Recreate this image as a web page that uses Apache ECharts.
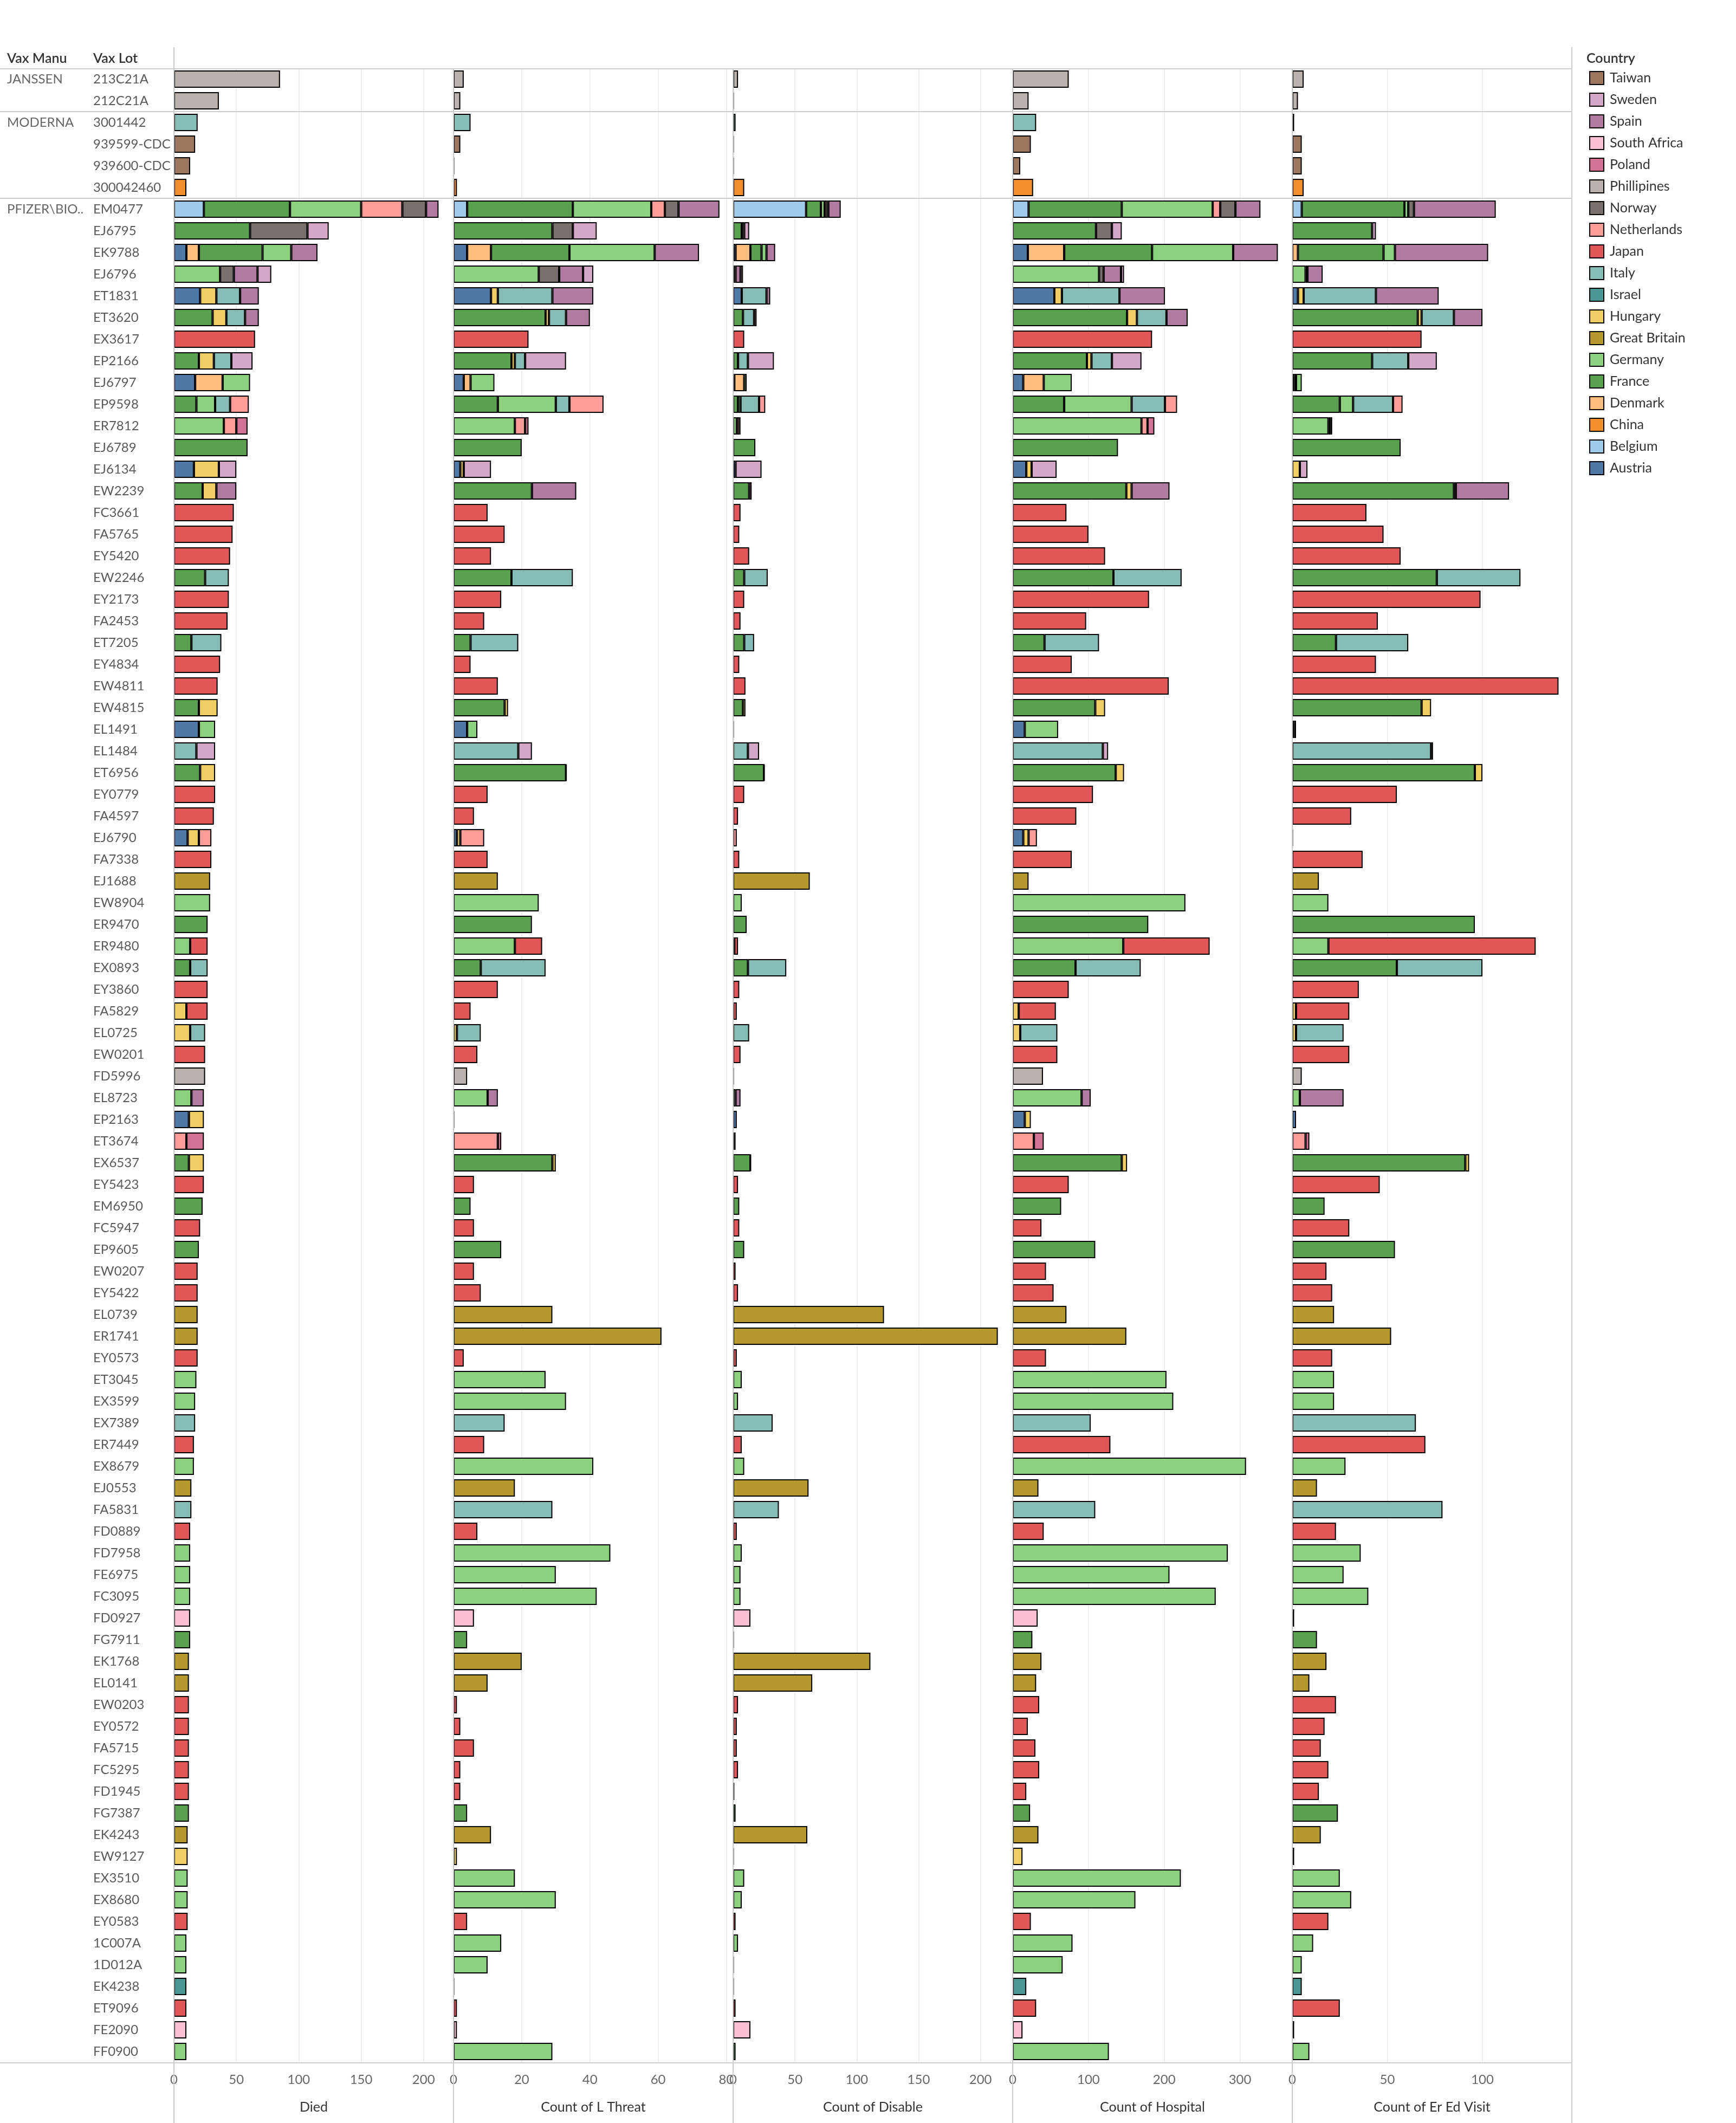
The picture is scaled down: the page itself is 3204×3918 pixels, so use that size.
<!DOCTYPE html>
<html>
<head>
<meta charset="utf-8">
<title>Vax lots by country</title>
<script src="https://cdn.jsdelivr.net/npm/echarts@6/dist/echarts.min.js"></script>
<style>
  html, body { margin: 0; padding: 0; background: #fff; }
  #chart { width: 3204px; height: 3918px; }
</style>
</head>
<body>
<div id="chart"></div>
<script>
// ---- data ----
var manuNames = ['JANSSEN', 'MODERNA', 'PFIZER\\BIO..'];
var manuSizes = [2, 4, 86];

var lots = ['213C21A','212C21A',
  '3001442','939599-CDC','939600-CDC','300042460',
  'EM0477','EJ6795','EK9788','EJ6796','ET1831','ET3620','EX3617','EP2166','EJ6797','EP9598',
  'ER7812','EJ6789','EJ6134','EW2239','FC3661','FA5765','EY5420','EW2246','EY2173','FA2453',
  'ET7205','EY4834','EW4811','EW4815','EL1491','EL1484','ET6956','EY0779','FA4597','EJ6790',
  'FA7338','EJ1688','EW8904','ER9470','ER9480','EX0893','EY3860','FA5829','EL0725','EW0201',
  'FD5996','EL8723','EP2163','ET3674','EX6537','EY5423','EM6950','FC5947','EP9605','EW0207',
  'EY5422','EL0739','ER1741','EY0573','ET3045','EX3599','EX7389','ER7449','EX8679','EJ0553',
  'FA5831','FD0889','FD7958','FE6975','FC3095','FD0927','FG7911','EK1768','EL0141','EW0203',
  'EY0572','FA5715','FC5295','FD1945','FG7387','EK4243','EW9127','EX3510','EX8680','EY0583',
  '1C007A','1D012A','EK4238','ET9096','FE2090','FF0900'];

// stacking order (alphabetical), legend shows it reversed
var countries = ['Austria','Belgium','China','Denmark','France','Germany','Great Britain','Hungary',
  'Israel','Italy','Japan','Netherlands','Norway','Phillipines','Poland','South Africa','Spain',
  'Sweden','Taiwan'];
var countryColors = ['#4E79A7','#A0CBE8','#F28E2B','#FFBE7D','#59A14F','#8CD17D','#B6992D','#F1CE63',
  '#499894','#86BCB6','#E15759','#FF9D9A','#79706E','#BAB0AC','#D37295','#FABFD2','#B07AA1',
  '#D4A6C8','#9D7660'];

var J = ['Japan'], GER = ['Germany'], GB = ['Great Britain'], FR = ['France'], IT = ['Italy'];
// countries present in each lot (values below follow this order)
var lotCountries = [
  ['Phillipines'], ['Phillipines'],
  IT, ['Taiwan'], ['Taiwan'], ['China'],
  ['Belgium','France','Germany','Netherlands','Norway','Spain'],
  ['France','Norway','Sweden'],
  ['Austria','Denmark','France','Germany','Spain'],
  ['Germany','Norway','Spain','Sweden'],
  ['Austria','Hungary','Italy','Spain'],
  ['France','Hungary','Italy','Spain'],
  J,
  ['France','Hungary','Italy','Sweden'],
  ['Austria','Denmark','Germany'],
  ['France','Germany','Italy','Netherlands'],
  ['Germany','Netherlands','Poland'],
  FR,
  ['Austria','Hungary','Sweden'],
  ['France','Hungary','Spain'],            // 19 EW2239
  J, J, J,
  ['France','Italy'],
  J, J,
  ['France','Italy'],
  J, J,
  ['France','Hungary'],
  ['Austria','Germany'],
  ['Italy','Sweden'],
  ['France','Hungary'],
  J, J,
  ['Austria','Hungary','Netherlands'],
  J,
  GB, GER, FR,
  ['Germany','Japan'],
  ['France','Italy'],
  J,
  ['Hungary','Japan'],
  ['Hungary','Italy'],
  J, ['Phillipines'],
  ['Germany','Spain'],
  ['Austria','Hungary'],
  ['Netherlands','Poland'],
  ['France','Hungary'],                    // 50 EX6537
  J, FR, J, FR, J, J, GB, GB, J,           // 51-59
  GER, GER, IT, J, GER, GB, IT, J, GER, GER, GER, ['South Africa'], FR,   // 60-72
  GB, GB, J, J, J, J, J, FR,               // 73-80
  GB, ['Hungary'], GER, GER, J,            // 81-85
  GER, GER, ['Israel'], J, ['South Africa'], GER   // 86-91
];

var died = [
  [85], [36],
  [19], [17], [13], [10],
  [24, 69, 57, 33, 19, 10], [61, 46, 17], [10, 10, 51, 23, 21], [37, 11, 19, 11],
  [21, 13, 19, 15], [31, 11, 15, 11], [65], [20, 12, 14, 17], [17, 22, 22],
  [18, 15, 12, 15], [40, 10, 9], [59], [16, 20, 14],
  [23, 11, 16], [48], [47], [45], [25, 19], [44], [43], [14, 24], [37], [35],
  [20, 15], [20, 13], [18, 15], [21, 12], [33], [32], [11, 9, 10], [30],
  [29], [29], [27], [13, 14], [13, 14], [27], [10, 17], [13, 12], [25], [25],
  [14, 10], [12, 12], [10, 14], [12, 12],
  [24], [23], [21], [20], [19], [19], [19], [19], [19],
  [18], [17], [17], [16], [16], [14], [14], [13], [13], [13], [13], [13], [13],
  [12], [12], [12], [12], [12], [12], [12], [12],
  [11], [11], [11], [11], [11],
  [10], [10], [10], [10], [10], [10]
];

var lThreat = [
  [3], [2],
  [5], [2], [0], [1],
  [4, 31, 23, 4, 4, 12], [29, 6, 7], [4, 7, 23, 25, 13], [25, 6, 7, 3],
  [11, 2, 16, 12], [27, 1, 5, 7], [22], [17, 1, 3, 12], [3, 2, 7],
  [13, 17, 4, 10], [18, 3, 1], [20], [2, 1, 8],
  [23, null, 13], [10], [15], [11], [17, 18], [14], [9], [5, 14], [5], [13],
  [15, 1], [4, 3], [19, 4], [33, 0], [10], [6], [1, 1, 7], [10],
  [13], [25], [23], [18, 8], [8, 19], [13], [null, 5], [1, 7], [7], [4],
  [10, 3], [0, null], [13, 1], [29, 1],
  [6], [5], [6], [14], [6], [8], [29], [61], [3],
  [27], [33], [15], [9], [41], [18], [29], [7], [46], [30], [42], [6], [4],
  [20], [10], [1], [2], [6], [2], [2], [4],
  [11], [1], [18], [30], [4],
  [14], [10], [0], [1], [1], [29]
];

var disable = [
  [4], [0],
  [2], [0], [0], [9],
  [59, 12, 3, 2, 1, 10], [7, 2, 4], [2, 12, 9, 4, 7], [1, 1, 4, 2],
  [7, null, 20, 3], [8, null, 9, 2], [9], [4, null, 8, 21], [1, 8, 2],
  [4, 2, 15, 5], [3, 2, 1], [18], [2, null, 21],
  [13, null, 2], [6], [5], [13], [9, 19], [9], [6], [9, 8], [5], [10],
  [8, 2], [0, null], [12, 9], [25, 0], [9], [4], [null, null, 3], [5],
  [62], [7], [11], [1, 3], [12, 31], [5], [null, 3], [0, 13], [6], [0],
  [2, 4], [3, null], [1, 1], [14, 0],
  [4], [5], [5], [9], [2], [4], [122], [214], [3],
  [7], [4], [32], [7], [9], [61], [37], [3], [7], [6], [6], [14], [0],
  [111], [64], [4], [3], [3], [4], [1], [2],
  [60], [0], [9], [7], [2],
  [4], [0], [0], [2], [14], [2]
];

var hospital = [
  [74], [21],
  [31], [24], [10], [27],
  [21, 123, 120, 10, 20, 33], [110, 21, 13], [20, 48, 116, 107, 59], [114, 6, 23, 4],
  [55, 10, 76, 60], [151, 13, 39, 28], [184], [98, 6, 27, 39], [14, 27, 37],
  [68, 89, 44, 16], [170, 8, 9], [139], [18, 7, 33],
  [150, 7, 50], [71], [100], [122], [133, 90], [180], [97], [42, 72], [78], [206],
  [109, 13], [16, 44], [119, 7], [136, 11], [106], [84], [14, 7, 11], [78],
  [21], [228], [179], [146, 114], [83, 86], [74], [8, 49], [10, 49], [59], [40],
  [91, 12], [16, 8], [28, 13], [144, 7],
  [74], [64], [38], [109], [44], [54], [71], [150], [44],
  [203], [212], [103], [129], [308], [34], [109], [41], [284], [207], [268], [33], [26],
  [38], [31], [35], [20], [30], [35], [18], [23],
  [34], [13], [222], [162], [24],
  [79], [66], [18], [31], [13], [127]
];

var erVisit = [
  [6], [3],
  [1], [5], [5], [6],
  [5, 54, 2, null, 3, 43], [42, null, 2], [null, 3, 45, 6, 49], [7, 1, 8, null],
  [3, 3, 38, 33], [66, 2, 17, 15], [68], [42, null, 19, 15], [1, 1, 3],
  [25, 7, 21, 5], [19, 1, 1], [57], [null, 4, 4],
  [85, 1, 28], [39], [48], [57], [76, 44], [99], [45], [23, 38], [44], [140],
  [68, 5], [1, 1], [73, 1], [96, 4], [55], [31], [null, null, 0], [37],
  [14], [19], [96], [19, 109], [55, 45], [35], [2, 28], [2, 25], [30], [5],
  [4, 23], [2, null], [7, 2], [91, 2],
  [46], [17], [30], [54], [18], [21], [22], [52], [21],
  [22], [22], [65], [70], [28], [13], [79], [23], [36], [27], [40], [1], [13],
  [18], [9], [23], [17], [15], [19], [14], [24],
  [15], [1], [25], [31], [19],
  [11], [5], [5], [25], [1], [9]
];

var measureNames = ['Died', 'Count of L Threat', 'Count of Disable', 'Count of Hospital', 'Count of Er Ed Visit'];
var measureMax = [224, 82, 226, 369, 147];
var measureStep = [50, 20, 50, 100, 50];
var measures = [died, lThreat, disable, hospital, erVisit];

// ---- layout ----
var FONT = 'Lato, "Noto Sans", sans-serif';
var PANEL_LEFT = 321, PANEL_W = 516, TOP = 126, ROW_H = 40;
var PLOT_H = ROW_H * lots.length;
var BOTTOM = TOP + PLOT_H;
var RIGHT = PANEL_LEFT + PANEL_W * measures.length;
var LINE = '#cdcdcd';

var rowManu = [];
var manuLabels = [];
manuNames.forEach(function (m, k) {
  for (var i = 0; i < manuSizes[k]; i++) {
    rowManu.push(m);
    manuLabels.push(i === 0 ? m : '');
  }
});

var chart = echarts.init(document.getElementById('chart'));

var grids = [], xAxes = [], yAxes = [], series = [];
measures.forEach(function (rows, g) {
  grids.push({ left: PANEL_LEFT + PANEL_W * g, top: TOP, width: PANEL_W, height: PLOT_H });
  xAxes.push({
    gridIndex: g, type: 'value', min: 0, max: measureMax[g], interval: measureStep[g],
    axisLine: { show: false }, axisTick: { show: false },
    splitLine: { lineStyle: { color: '#efefef', width: 2 } },
    axisLabel: {
      color: '#666', fontSize: 24, fontFamily: FONT, margin: 20,
      formatter: function (v) { return v % measureStep[g] === 0 ? String(v) : ''; }
    },
    name: measureNames[g], nameLocation: 'middle', nameGap: 70,
    nameTextStyle: { color: '#333', fontSize: 25, fontFamily: FONT }
  });
  yAxes.push({
    gridIndex: g, type: 'category', data: lots, inverse: true,
    show: g === 0,
    axisLine: { show: false }, axisTick: { show: false }, splitLine: { show: false },
    axisLabel: { interval: 0, align: 'left', margin: PANEL_LEFT - 172, color: '#5a5a5a', fontSize: 24, fontFamily: FONT }
  });
  countries.forEach(function (c, ci) {
    var data = rows.map(function (vals, i) {
      var k = lotCountries[i].indexOf(c);
      if (k < 0 || vals[k] == null) return '-';
      return vals[k];
    });
    series.push({
      type: 'bar', name: c, xAxisIndex: g, yAxisIndex: g, stack: 'm' + g,
      barWidth: 32, barMinHeight: 1, data: data, silent: true,
      itemStyle: { color: countryColors[ci], borderColor: '#000', borderWidth: 2 },
      emphasis: { disabled: true }
    });
  });
});
// manufacturer column, sharing the first grid
yAxes.push({
  gridIndex: 0, type: 'category', data: lots, inverse: true, position: 'left',
  axisLine: { show: false }, axisTick: { show: false }, splitLine: { show: false },
  axisLabel: {
    interval: 0, align: 'left', margin: PANEL_LEFT - 13, color: '#666', fontSize: 24, fontFamily: FONT,
    formatter: function (v, i) { return manuLabels[i]; }
  }
});

chart.setOption({
  animation: false,
  backgroundColor: '#fff',
  grid: grids,
  xAxis: xAxes,
  yAxis: yAxes,
  legend: {
    orient: 'vertical', left: 2933, top: 131, padding: 0,
    itemWidth: 26, itemHeight: 24, itemGap: 14, icon: 'rect',
    data: countries.slice().reverse(),
    itemStyle: { borderColor: '#000', borderWidth: 2 },
    textStyle: { color: '#333', fontSize: 25, fontFamily: FONT, lineHeight: 24, padding: [0, 0, 0, 6] },
    selectedMode: false
  },
  series: series
});

// separators between manufacturer groups, found from the category scale
function rowY(i) { return chart.convertToPixel({ yAxisIndex: 0 }, i); }
var lines = [
  [0, TOP + 1, RIGHT, TOP + 1],
  [0, BOTTOM + 1, RIGHT, BOTTOM + 1],
  [PANEL_LEFT, 87, PANEL_LEFT, 3918],
  [RIGHT, 87, RIGHT, 3918]
];
for (var p = 1; p < measures.length; p++) {
  lines.push([PANEL_LEFT + PANEL_W * p, TOP, PANEL_LEFT + PANEL_W * p, 3918]);
}
for (var i = 1; i < lots.length; i++) {
  if (rowManu[i] !== rowManu[i - 1]) {
    var y = (rowY(i - 1) + rowY(i)) / 2;
    lines.push([0, y, RIGHT, y]);
  }
}

var graphic = lines.map(function (l) {
  return {
    type: 'line', z: 50, silent: true,
    shape: { x1: l[0], y1: l[1], x2: l[2], y2: l[3] },
    style: { stroke: LINE, lineWidth: 2 }
  };
});
[['Vax Manu', 13], ['Vax Lot', 172], ['Country', 2928]].forEach(function (t) {
  graphic.push({
    type: 'text', x: t[1], y: 108, silent: true,
    style: { text: t[0], fill: '#333', font: '600 25px ' + FONT, verticalAlign: 'middle' }
  });
});
chart.setOption({ graphic: graphic });
</script>
</body>
</html>
